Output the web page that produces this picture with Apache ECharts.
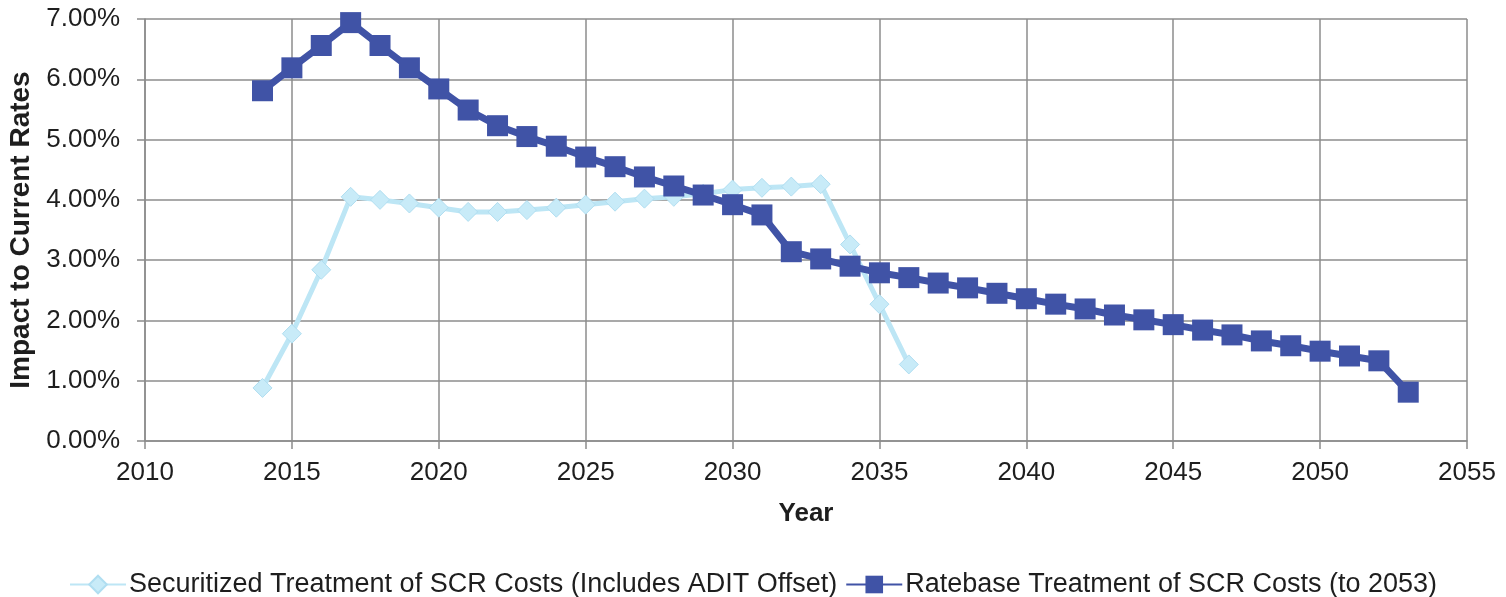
<!DOCTYPE html>
<html>
<head>
<meta charset="utf-8">
<script src="https://cdn.jsdelivr.net/npm/echarts@6/dist/echarts.min.js"></script>
<style>
  html, body { margin: 0; padding: 0; background: #fff; }
  #chart { width: 1506px; height: 597px; }
</style>
</head>
<body>
<div id="chart"></div>
<script>
// Years covered by each scenario
const securitizedYears = [2014, 2015, 2016, 2017, 2018, 2019, 2020, 2021, 2022, 2023, 2024, 2025,
  2026, 2027, 2028, 2029, 2030, 2031, 2032, 2033, 2034, 2035, 2036];
const ratebaseYears = [2014, 2015, 2016, 2017, 2018, 2019, 2020, 2021, 2022, 2023, 2024, 2025,
  2026, 2027, 2028, 2029, 2030, 2031, 2032, 2033, 2034, 2035, 2036, 2037, 2038, 2039, 2040,
  2041, 2042, 2043, 2044, 2045, 2046, 2047, 2048, 2049, 2050, 2051, 2052, 2053];

// Impact to current rates, in percent
const securitizedValues = [0.88, 1.78, 2.84, 4.05, 4.00, 3.94, 3.87, 3.80, 3.80, 3.83, 3.87, 3.92,
  3.97, 4.02, 4.05, 4.10, 4.17, 4.20, 4.22, 4.26, 3.26, 2.27, 1.27];
const ratebaseValues = [5.81, 6.19, 6.56, 6.94, 6.56, 6.19, 5.84, 5.49, 5.23, 5.05, 4.89, 4.71,
  4.55, 4.38, 4.23, 4.08, 3.92, 3.75, 3.14, 3.02, 2.90, 2.79, 2.71, 2.62, 2.54, 2.45, 2.36,
  2.27, 2.19, 2.09, 2.01, 1.93, 1.84, 1.76, 1.66, 1.58, 1.49, 1.41, 1.33, 0.81];

const seriesNames = [
  'Securitized Treatment of SCR Costs (Includes ADIT Offset)',
  'Ratebase Treatment of SCR Costs (to 2053)'
];

const pairs = (xs, ys) => xs.map((x, i) => [x, ys[i]]);

const FONT = 'Liberation Sans, Arial, sans-serif';
const GRID_COLOR = '#8c8c8c';
const TEXT_COLOR = '#1e1e1e';

const chart = echarts.init(document.getElementById('chart'));
chart.setOption({
  animation: false,
  backgroundColor: '#ffffff',
  grid: { left: 145, right: 39, top: 19, bottom: 156, containLabel: false, outerBoundsMode: 'none' },
  xAxis: {
    type: 'value',
    min: 2010, max: 2055, interval: 5,
    name: 'Year',
    nameLocation: 'middle',
    nameGap: 60,
    nameTextStyle: { fontFamily: FONT, fontSize: 26, fontWeight: 'bold', color: TEXT_COLOR },
    axisLine: { show: true, lineStyle: { color: GRID_COLOR, width: 1.5 } },
    axisTick: { show: true, inside: false, length: 8, lineStyle: { color: GRID_COLOR, width: 1.5 } },
    axisLabel: { fontFamily: FONT, fontSize: 26, color: TEXT_COLOR, margin: 19, formatter: v => String(v) },
    splitLine: { show: true, lineStyle: { color: GRID_COLOR, width: 1.5 } }
  },
  yAxis: {
    type: 'value',
    min: 0, max: 7, interval: 1,
    name: 'Impact to Current Rates',
    nameLocation: 'middle',
    nameGap: 106,
    nameTextStyle: { fontFamily: FONT, fontSize: 28, fontWeight: 'bold', color: TEXT_COLOR },
    axisLine: { show: true, lineStyle: { color: GRID_COLOR, width: 1.5 } },
    axisTick: { show: true, inside: false, length: 8, lineStyle: { color: GRID_COLOR, width: 1.5 } },
    axisLabel: {
      fontFamily: FONT, fontSize: 26, color: TEXT_COLOR, margin: 25,
      formatter: v => v.toFixed(2) + '%'
    },
    splitLine: { show: true, lineStyle: { color: GRID_COLOR, width: 1.5 } }
  },
  legend: {
    top: 566,
    left: 'center',
    itemWidth: 56,
    itemHeight: 22,
    itemGap: 8,
    textStyle: { fontFamily: FONT, fontSize: 27, color: TEXT_COLOR, padding: [0, 0, 0, -2] },
    data: seriesNames
  },
  series: [
    {
      name: seriesNames[0],
      type: 'line',
      data: pairs(securitizedYears, securitizedValues),
      symbol: 'diamond',
      symbolSize: 19,
      lineStyle: { color: '#bde6f5', width: 5 },
      itemStyle: { color: '#c8ebf8', borderColor: '#b0def1', borderWidth: 1 },
      z: 2
    },
    {
      name: seriesNames[1],
      type: 'line',
      data: pairs(ratebaseYears, ratebaseValues),
      symbol: 'rect',
      symbolSize: 21,
      lineStyle: { color: '#4053a6', width: 7 },
      itemStyle: { color: '#4053a6' },
      z: 3
    }
  ]
});
</script>
</body>
</html>
